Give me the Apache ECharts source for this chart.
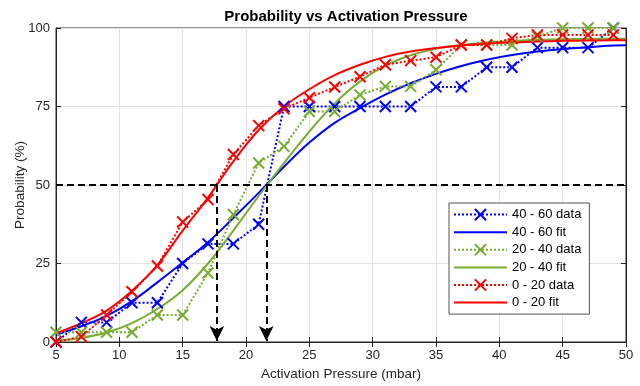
<!DOCTYPE html>
<html>
<head>
<meta charset="utf-8">
<script src="https://cdn.jsdelivr.net/npm/echarts@6/dist/echarts.min.js"></script>
<style>
  html, body { margin: 0; padding: 0; background: #fff; }
  #chart { width: 640px; height: 386px; }
</style>
</head>
<body>
<div id="chart"></div>
<script>
// measured points (pressure in mbar, probability in %)
const xData = [5, 7, 9, 11, 13, 15, 17, 19, 21, 23, 25, 27, 29, 31, 33, 35, 37, 39, 41, 43, 45, 47, 49]
const blueData = [0, 6.25, 6.25, 12.5, 12.5, 25, 31.25, 31.25, 37.5, 75, 75, 75, 75, 75, 75, 81.25, 81.25, 87.5, 87.5, 93.75, 93.75, 93.75, 100]
const greenData = [3.1, 3.1, 3.1, 3.1, 8.6, 8.6, 22, 40.6, 57, 62.3, 73.4, 73.4, 78.7, 81.4, 81.4, 86.7, 94.6, 94.6, 94.6, 97.3, 100, 100, 100]
const redData = [0, 1.7, 8.6, 16, 24.2, 38.2, 45.4, 59.7, 68.9, 74.3, 77.8, 81.2, 84.5, 88.3, 89.6, 90.7, 94.6, 94.6, 96.7, 97.8, 97.8, 97.8, 97.8]

// fitted curves
const xFit = [5, 7, 9, 11, 13, 15, 17, 19, 21, 23, 25, 27, 29, 31, 33, 35, 37, 39, 41, 43, 45, 47, 49, 50]
const blueFit = [2.3, 5, 8.3, 13, 19, 25.3, 31.8, 39.5, 47.5, 55.8, 63.5, 69.8, 74.5, 78.8, 82.4, 85.4, 87.9, 89.9, 91.4, 92.5, 93.3, 93.9, 94.4, 94.5]
const greenFit = [0.5, 1.3, 3, 6, 10.5, 16.5, 25, 35.5, 46.5, 57, 67, 76, 83, 88, 91.3, 93.4, 94.6, 95.4, 95.9, 96.2, 96.4, 96.5, 96.6, 96.6]
const redFit = [2.8, 6, 10, 16.3, 24.5, 35.5, 46, 57.5, 67.5, 75, 80.5, 85, 88.3, 90.8, 92.5, 93.6, 94.4, 95, 95.4, 95.7, 95.9, 96, 96.1, 96.1]

// 50 % crossing points
const level = 50
const crossings = [17.7, 21.6]

const xTicks = { min: 5, max: 50, interval: 5 }
const yTicks = { min: 0, max: 100, interval: 25 }

const font = "'Liberation Sans', Arial, sans-serif"
const crossPath = 'path://M0,0 L10,10 M10,0 L0,10'

function pairs(xs, ys) {
  return xs.map((x, i) => [x, ys[i]])
}

function dataSeries(name, color, values) {
  return {
    name: name,
    type: 'line',
    data: pairs(xData, values),
    symbol: crossPath,
    symbolSize: 11,
    itemStyle: { color: color, borderColor: color, borderWidth: 2 },
    lineStyle: { color: color, width: 2, type: 'dotted' },
    emphasis: { disabled: true },
    animation: false
  }
}

function fitSeries(name, color, values) {
  return {
    name: name,
    type: 'line',
    data: pairs(xFit, values),
    smooth: 0.4,
    symbol: 'none',
    itemStyle: { color: color },
    lineStyle: { color: color, width: 2 },
    emphasis: { disabled: true },
    animation: false
  }
}

const names = ['40 - 60 data', '40 - 60 fit', '20 - 40 data', '20 - 40 fit', '0 - 20 data', '0 - 20 fit']
const colors = ['#0000ff', '#0000ff', '#77ac30', '#77ac30', '#ff0000', '#ff0000']

const chart = echarts.init(document.getElementById('chart'))

chart.setOption({
  backgroundColor: '#fff',
  animation: false,
  textStyle: { fontFamily: font },
  title: {
    text: 'Probability vs Activation Pressure',
    left: 341,
    textAlign: 'center',
    top: 4,
    textStyle: { fontFamily: font, fontSize: 15, fontWeight: 'bold', color: '#000' }
  },
  grid: {
    left: 56,
    right: 14,
    top: 28,
    bottom: 43,
    show: true,
    borderColor: '#262626',
    borderWidth: 1
  },
  legend: {
    orient: 'vertical',
    left: 449,
    top: 203,
    padding: [5, 8, 5, 4],
    itemWidth: 53,
    itemHeight: 14,
    itemGap: 4.5,
    backgroundColor: '#fff',
    borderColor: '#555',
    borderWidth: 1,
    textStyle: { fontFamily: font, fontSize: 13, color: '#000' },
    // fit lines get no marker in the key
    data: names.map(n => n.endsWith('fit') ? { name: n, itemStyle: { opacity: 0 } } : { name: n })
  },
  xAxis: [{
    type: 'value',
    min: xTicks.min,
    max: xTicks.max,
    interval: xTicks.interval,
    name: 'Activation Pressure (mbar)',
    nameLocation: 'middle',
    nameGap: 25,
    nameMoveOverlap: false,
    nameTextStyle: { fontFamily: font, fontSize: 13.5, color: '#262626' },
    axisLine: { lineStyle: { color: '#262626' } },
    axisTick: { inside: true, length: 5, lineStyle: { color: '#262626' } },
    axisLabel: { fontFamily: font, fontSize: 13, color: '#262626', margin: 7 },
    splitLine: { show: true, lineStyle: { color: '#e3e3e3' } }
  }, {
    type: 'value',
    position: 'top',
    min: xTicks.min,
    max: xTicks.max,
    interval: xTicks.interval,
    axisLine: { lineStyle: { color: '#262626' } },
    axisTick: { inside: true, length: 5, lineStyle: { color: '#262626' } },
    axisLabel: { show: false },
    splitLine: { show: false }
  }],
  yAxis: [{
    type: 'value',
    min: yTicks.min,
    max: yTicks.max,
    interval: yTicks.interval,
    name: 'Probability (%)',
    nameLocation: 'middle',
    nameGap: 29,
    nameMoveOverlap: false,
    nameTextStyle: { fontFamily: font, fontSize: 13.5, color: '#262626' },
    axisLine: { show: true, lineStyle: { color: '#262626' } },
    axisTick: { show: true, inside: true, length: 5, lineStyle: { color: '#262626' } },
    axisLabel: { fontFamily: font, fontSize: 13, color: '#262626', margin: 6 },
    splitLine: { show: true, lineStyle: { color: '#e3e3e3' } }
  }, {
    type: 'value',
    position: 'right',
    min: yTicks.min,
    max: yTicks.max,
    interval: yTicks.interval,
    axisLine: { show: true, lineStyle: { color: '#262626' } },
    axisTick: { show: true, inside: true, length: 5, lineStyle: { color: '#262626' } },
    axisLabel: { show: false },
    splitLine: { show: false }
  }],
  series: [
    {
      type: 'line',
      data: [],
      silent: true,
      markLine: {
        silent: true,
        animation: false,
        symbol: ['none', 'none'],
        label: { show: false },
        lineStyle: { color: '#000', width: 2, type: [7, 4] },
        data: [{ yAxis: level }]
      }
    },
    {
      type: 'line',
      data: [],
      silent: true,
      markLine: {
        silent: true,
        animation: false,
        symbol: ['none', 'arrow'],
        symbolSize: [11, 15],
        label: { show: false },
        lineStyle: { color: '#000', width: 2, type: [7, 4] },
        data: crossings.map(x => [{ coord: [x, level] }, { coord: [x, 0.3] }])
      }
    },
    dataSeries(names[0], colors[0], blueData),
    fitSeries(names[1], colors[1], blueFit),
    dataSeries(names[2], colors[2], greenData),
    fitSeries(names[3], colors[3], greenFit),
    dataSeries(names[4], colors[4], redData),
    fitSeries(names[5], colors[5], redFit)
  ]
})
</script>
</body>
</html>
